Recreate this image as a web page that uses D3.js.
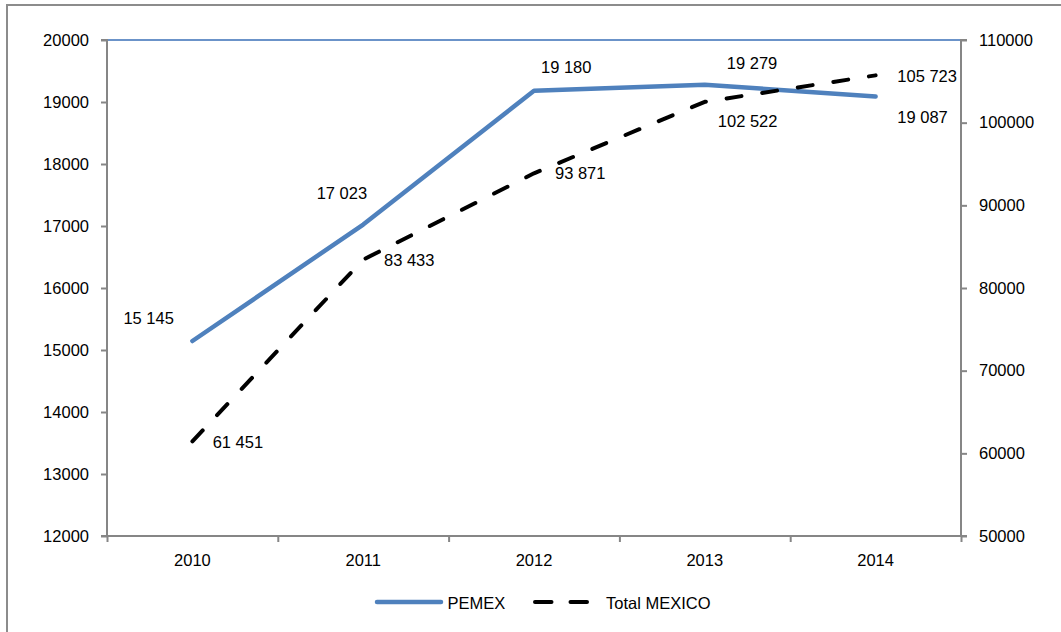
<!DOCTYPE html>
<html>
<head>
<meta charset="utf-8">
<script src="https://cdn.jsdelivr.net/npm/d3@7"></script>
<style>
  html, body { margin: 0; padding: 0; background: #fff; }
  svg { display: block; }
  text { font-family: "Liberation Sans", Arial, sans-serif; font-size: 16.5px; fill: #000; }
</style>
</head>
<body>
<svg id="chart" width="1061" height="632"></svg>
<script>
// ---- data ----
const years = ["2010", "2011", "2012", "2013", "2014"];
const pemex = [15145, 17023, 19180, 19279, 19087];
const totalMexico = [61451, 83433, 93871, 102522, 105723];
const pemexLabels = ["15 145", "17 023", "19 180", "19 279", "19 087"];
const totalLabels = ["61 451", "83 433", "93 871", "102 522", "105 723"];
const leftTicks = [12000, 13000, 14000, 15000, 16000, 17000, 18000, 19000, 20000];
const rightTicks = [50000, 60000, 70000, 80000, 90000, 100000, 110000];
const seriesNames = ["PEMEX", "Total MEXICO"];

// label offsets (text start, baseline) relative to the point
const pemexLabelOffsets = [[-69, -17], [-46.5, -25.6], [7, -18], [22, -15.7], [21.7, 26.7]];
const totalLabelOffsets = [[20.3, 6.4], [20.8, 6], [21, 6], [13, 25.5], [21.7, 6.4]];

const svg = d3.select("#chart");
const W = 1061, H = 632;
const plot = { left: 107, right: 961, top: 40, bottom: 536 };
const axisColor = "#868686";
const blue = "#4f81bd";

// outer frame
svg.append("rect")
  .attr("x", 7).attr("y", 5)
  .attr("width", W + 20).attr("height", H + 20)
  .attr("fill", "none").attr("stroke", "#8c8c8c").attr("stroke-width", 2);

const x = d3.scaleBand().domain(years).range([plot.left, plot.right]).padding(0);
const yL = d3.scaleLinear().domain([12000, 20000]).range([plot.bottom, plot.top]);
const yR = d3.scaleLinear().domain([50000, 110000]).range([plot.bottom, plot.top]);
const cx = d => x(d) + x.bandwidth() / 2;

// top gridline (blue)
svg.append("line")
  .attr("x1", plot.left).attr("x2", plot.right)
  .attr("y1", yL(20000)).attr("y2", yL(20000))
  .attr("stroke", "#6b93c9").attr("stroke-width", 2);

// left axis
const gL = svg.append("g").attr("transform", `translate(${plot.left},0)`)
  .call(d3.axisLeft(yL).tickValues(leftTicks).tickSize(6).tickPadding(12).tickFormat(d3.format("d")));
// right axis
const gR = svg.append("g").attr("transform", `translate(${plot.right},0)`)
  .call(d3.axisRight(yR).tickValues(rightTicks).tickSize(6).tickPadding(12).tickFormat(d3.format("d")));
// bottom axis with ticks at category boundaries
const boundaries = years.map(d => x(d)).concat([plot.right]);
const xb = d3.scaleLinear().domain([plot.left, plot.right]).range([plot.left, plot.right]);
const gB = svg.append("g").attr("transform", `translate(0,${plot.bottom})`)
  .call(d3.axisBottom(xb).tickValues(boundaries).tickSize(6).tickFormat(""));

[gL, gR, gB].forEach(g => {
  g.select(".domain").attr("stroke", axisColor).attr("stroke-width", 2);
  g.selectAll(".tick line").attr("stroke", axisColor).attr("stroke-width", 2);
  g.selectAll("text").attr("font-family", "Liberation Sans, Arial, sans-serif")
    .attr("font-size", 16.5).attr("fill", "#000");
});
gB.select(".domain").attr("d", `M${plot.left},0H${plot.right}`);
gL.select(".domain").attr("d", `M-6,${plot.top}H0V${plot.bottom}H-6`);
gR.select(".domain").attr("d", `M6,${plot.top}H0V${plot.bottom}H6`);

// category labels
svg.append("g").selectAll("text").data(years).join("text")
  .attr("x", d => cx(d)).attr("y", 566)
  .attr("text-anchor", "middle").text(d => d);

// lines
const linePemex = d3.line().x((d, i) => cx(years[i])).y(d => yL(d));
const lineTotal = d3.line().x((d, i) => cx(years[i])).y(d => yR(d));

svg.append("path").datum(pemex)
  .attr("d", linePemex).attr("fill", "none")
  .attr("stroke", blue).attr("stroke-width", 4.5)
  .attr("stroke-linecap", "round").attr("stroke-linejoin", "round");

svg.append("path").datum(totalMexico)
  .attr("d", lineTotal).attr("fill", "none")
  .attr("stroke", "#000").attr("stroke-width", 4)
  .attr("stroke-dasharray", "15 21")
  .attr("stroke-linecap", "round").attr("stroke-linejoin", "round");

// data labels
svg.append("g").selectAll("text").data(pemex).join("text")
  .attr("x", (d, i) => cx(years[i]) + pemexLabelOffsets[i][0])
  .attr("y", (d, i) => yL(d) + pemexLabelOffsets[i][1])
  .text((d, i) => pemexLabels[i]);

svg.append("g").selectAll("text").data(totalMexico).join("text")
  .attr("x", (d, i) => cx(years[i]) + totalLabelOffsets[i][0])
  .attr("y", (d, i) => yR(d) + totalLabelOffsets[i][1])
  .text((d, i) => totalLabels[i]);

// legend
const lg = svg.append("g");
lg.append("line").attr("x1", 377).attr("x2", 441).attr("y1", 602).attr("y2", 602)
  .attr("stroke", blue).attr("stroke-width", 4.5).attr("stroke-linecap", "round");
lg.append("text").attr("x", 447.5).attr("y", 608.5).text(seriesNames[0]);
lg.append("line").attr("x1", 535).attr("x2", 591).attr("y1", 602).attr("y2", 602)
  .attr("stroke", "#000").attr("stroke-width", 4).attr("stroke-linecap", "round")
  .attr("stroke-dasharray", "16.5 19");
lg.append("text").attr("x", 606).attr("y", 608.5).text(seriesNames[1]);
</script>
</body>
</html>
